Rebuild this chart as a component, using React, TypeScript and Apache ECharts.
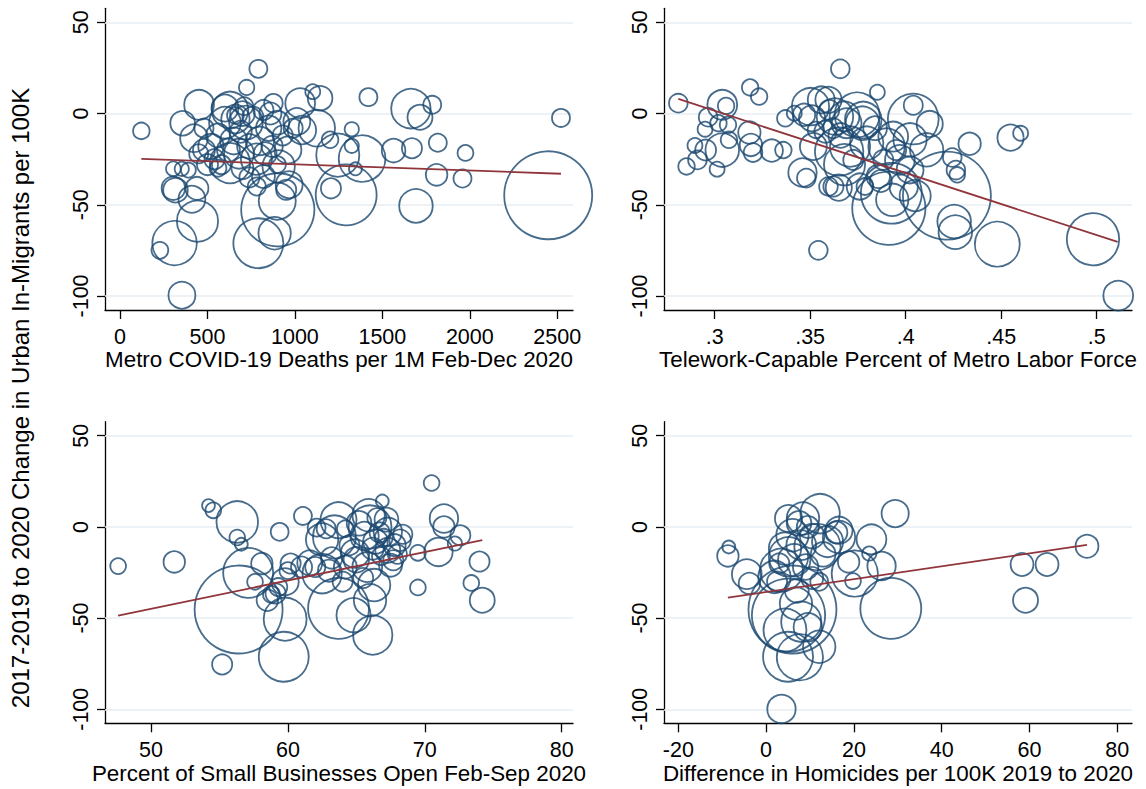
import { useEffect, useRef } from "react";
import * as echarts from "echarts";

const FONT = "'Liberation Sans', Arial, Helvetica, sans-serif";
const NAVY = "#1a476f";
const MAROON = "#90353b";
const GRID_COLOR = "#e6eef3";

const yTitle = "2017-2019 to 2020 Change in Urban In-Migrants per 100K";
const yTicks = [-100, -50, 0, 50];
const yMin = -107.7;
const yMax = 57.7;

// Largest metro (population in millions) and its bubble radius in px
const POP_MAX = 19.2;
const R_MAX = 44;

// [x, change in in-migrants per 100K, metro population (millions)]
const covidDeaths = [
  [122, -9.5, 0.68], [791, 24.5, 0.8], [724, 14.3, 0.58], [452, 4.8, 2.2],
  [358, -5.3, 1.5], [423, -13.5, 1.9], [1420, 9.0, 0.8], [1663, 2.7, 3.85],
  [1715, -2.0, 1.55], [1785, 4.8, 0.8], [2521, -2.4, 0.8], [1817, -16.0, 0.8],
  [1975, -21.6, 0.62], [1669, -19.0, 1.0], [1564, -20.3, 1.38], [1810, -33.6, 1.15],
  [1958, -35.6, 0.8], [1692, -50.6, 2.8], [2448, -44.8, 19.2], [1293, -44.6, 9.2],
  [1245, -22.8, 4.6], [1384, -24.7, 5.4], [1325, -8.6, 0.5], [1325, -17.7, 0.5],
  [1346, -30.3, 0.42], [1206, -41.0, 1.0], [1201, -14.4, 0.68], [1030, 5.7, 2.2],
  [1102, 12.0, 0.55], [1144, 8.4, 1.5], [1125, -8.0, 3.3], [1011, -4.4, 1.8],
  [1040, -9.0, 2.0], [902, -52.8, 13.3], [884, -65.6, 2.6], [791, -71.1, 6.2],
  [899, -48.0, 3.4], [967, -39.0, 1.8], [907, -29.0, 2.6], [312, -71.0, 4.9],
  [228, -75.0, 0.7], [354, -99.6, 1.8], [443, -59.0, 4.2], [411, -47.0, 1.8],
  [440, -41.0, 1.3], [305, -40.9, 1.36], [317, -42.0, 1.5], [305, -30.3, 0.53],
  [353, -30.3, 0.5], [391, -31.0, 0.55], [629, 2.0, 3.3], [877, 5.7, 0.85],
  [600, -5.0, 2.5], [660, -3.0, 2.0], [700, 0.0, 1.5], [720, -5.0, 2.8],
  [690, -10.0, 1.2], [650, -15.0, 1.8], [560, -12.0, 1.4], [520, -18.0, 1.6],
  [480, -20.0, 1.2], [540, -25.0, 1.0], [620, -20.0, 1.3], [680, -22.0, 2.2],
  [740, -18.0, 1.5], [800, -15.0, 2.0], [850, -8.0, 1.6], [830, -22.0, 1.3],
  [780, -25.0, 2.4], [870, -18.0, 1.1], [900, -5.0, 1.4], [930, -12.0, 1.0],
  [960, -20.0, 1.8], [990, -8.0, 0.9], [760, -2.0, 1.1], [820, 2.0, 1.0],
  [580, -28.0, 0.9], [629, -27.2, 4.0], [820, -34.5, 1.3], [782, -40.0, 0.8],
  [950, -41.8, 1.0], [480, -8.0, 0.9], [700, -30.0, 1.2], [740, -35.0, 1.0],
  [600, 3.0, 1.8], [660, -1.0, 0.7], [710, 4.0, 0.8], [860, 0.0, 1.2],
  [900, -28.0, 0.7], [500, -28.0, 1.1], [450, -22.0, 0.9], [560, -30.0, 0.7],
];

const telework = [
  [0.281, 5.7, 0.86], [0.304, 4.8, 2.2], [0.306, 4.2, 0.67], [0.3186, 14.3, 0.67],
  [0.3233, 9.3, 0.67], [0.2966, -2.0, 0.86], [0.295, -8.6, 0.55], [0.302, -5.3, 0.67],
  [0.307, -6.2, 0.67], [0.3075, -14.4, 0.67], [0.304, -20.0, 2.8], [0.2953, -20.0, 1.08],
  [0.2897, -17.5, 0.55], [0.291, -25.4, 0.86], [0.2853, -29.0, 0.67], [0.3013, -30.5, 0.55],
  [0.3182, -10.4, 1.24], [0.319, -17.2, 1.24], [0.3201, -21.4, 0.86], [0.3299, -20.3, 1.24],
  [0.336, -20.0, 0.67], [0.337, -2.6, 0.67], [0.3417, 0.2, 0.55], [0.3468, -0.7, 1.24],
  [0.3502, 3.8, 3.45], [0.351, -2.6, 1.7], [0.353, -9.0, 0.67], [0.346, -32.3, 2.0],
  [0.348, -35.4, 0.86], [0.3596, -40.0, 0.86], [0.365, -40.6, 1.7], [0.3543, -75.0, 0.86],
  [0.3658, 24.5, 0.86], [0.3852, 11.7, 0.55], [0.3596, 7.5, 1.7], [0.368, -1.6, 2.2],
  [0.3746, -0.7, 5.0], [0.3774, -5.3, 2.8], [0.3652, -20.8, 5.8], [0.368, -28.0, 4.2],
  [0.376, -40.0, 1.7], [0.3912, -51.9, 13.3], [0.3925, -43.7, 9.2], [0.393, -47.3, 2.6],
  [0.404, -3.0, 6.4], [0.404, 4.5, 0.9], [0.4126, -5.7, 1.7], [0.4216, -45.0, 19.2],
  [0.4254, -59.2, 2.8], [0.426, -65.0, 2.8], [0.4244, -24.1, 0.86], [0.4263, -31.0, 0.86],
  [0.427, -33.6, 0.6], [0.4335, -16.6, 1.24], [0.4549, -13.2, 1.7], [0.4602, -10.8, 0.55],
  [0.448, -71.6, 5.0], [0.4981, -68.9, 6.8], [0.5113, -99.8, 2.2], [0.3558, 7.5, 1.8],
  [0.363, -1.6, 3.3], [0.3691, -5.3, 2.2], [0.3778, -3.5, 3.3], [0.3796, -16.2, 2.75],
  [0.3709, -18.1, 4.0], [0.39, -18.1, 3.3], [0.3935, -12.6, 2.2], [0.397, -25.4, 2.2],
  [0.4023, -14.4, 2.75], [0.411, -19.9, 2.75], [0.3857, -34.5, 1.35], [0.3787, -40.0, 0.7],
  [0.3622, -40.0, 1.0], [0.4023, -30.9, 1.8], [0.3883, -25.4, 1.0], [0.3726, -25.4, 1.0],
  [0.3517, -18.1, 1.8], [0.358, -10.0, 1.2], [0.362, -8.0, 1.0], [0.384, -8.0, 1.4],
  [0.395, -20.0, 1.0], [0.399, -40.0, 2.0], [0.405, -45.0, 2.4], [0.387, -37.0, 1.2],
  [0.36, 2.0, 1.0], [0.366, -12.0, 1.5],
];

const smallBusinessOpen = [
  [47.6, -21.5, 0.61], [51.7, -19.2, 1.14], [54.2, 11.7, 0.41], [54.55, 9.1, 0.61],
  [56.3, 2.7, 4.27], [56.3, -5.8, 0.6], [56.6, -9.5, 0.41], [57.1, -25.2, 6.2],
  [56.4, -45.3, 19.2], [55.2, -75.4, 1.0], [59.7, -71.2, 6.2], [59.8, -50.6, 4.57],
  [59.4, -2.7, 0.79], [58.1, -20.1, 1.14], [57.6, -30.1, 0.61], [58.5, -40.2, 1.14],
  [59.1, -36.5, 1.0], [59.8, -30.1, 1.83], [60.2, -20.1, 1.0], [61.1, 6.0, 0.79],
  [62.1, -0.4, 0.79], [62.5, -6.9, 2.6], [61.6, -19.7, 1.55], [62.5, -25.6, 3.84],
  [63.7, -44.7, 9.2], [63.7, 3.7, 3.2], [63.4, -5.5, 4.57], [63.2, -17.0, 1.14],
  [64.8, -48.4, 2.9], [64.9, -14.6, 2.0], [65.9, 6.4, 2.6], [66.0, 0.0, 4.57],
  [66.0, -40.2, 2.6], [66.2, -59.3, 3.84], [66.3, -31.9, 2.6], [66.9, 14.2, 0.41],
  [67.3, -2.7, 2.0], [67.3, -12.8, 1.55], [67.7, -18.3, 1.0], [68.2, -7.3, 1.14],
  [69.5, -14.2, 0.61], [69.5, -33.2, 0.61], [70.5, 24.1, 0.61], [71.4, 4.6, 2.0],
  [71.4, 0.0, 1.14], [71.0, -13.7, 2.0], [72.2, -9.1, 0.5], [72.6, -4.6, 1.0],
  [73.4, -30.7, 0.61], [74.0, -19.0, 1.0], [74.2, -40.2, 1.55], [65.2, 2.0, 1.5],
  [65.6, -5.0, 2.0], [66.4, -8.0, 1.5], [66.7, -3.0, 1.0], [67.0, -6.0, 0.8],
  [66.2, -12.0, 1.2], [65.0, -18.0, 1.6], [65.8, -22.0, 2.2], [67.8, -10.0, 1.2],
  [68.0, -15.0, 0.9], [67.5, -21.0, 1.3], [66.8, -16.0, 0.8], [64.5, -10.0, 1.0],
  [64.2, -22.0, 1.3], [65.5, -28.0, 1.0], [68.4, -4.0, 0.9], [67.2, 4.0, 1.4],
  [66.5, 5.0, 0.9], [62.0, -22.0, 1.0], [61.0, -22.0, 1.1], [60.0, -24.0, 0.7],
  [58.8, -37.0, 0.7], [59.3, -33.0, 0.8], [63.0, -24.0, 1.2], [64.0, -30.0, 1.0],
  [62.8, -1.0, 0.9], [64.2, -1.0, 0.7],
];

const homicideChange = [
  [-8.5, -11.0, 0.41], [-8.7, -15.9, 1.14], [-4.4, -25.9, 2.2], [-3.8, -31.0, 1.14],
  [29.4, 7.3, 1.83], [28.4, -44.7, 9.2], [24.0, -6.8, 2.2], [23.5, -14.6, 0.5],
  [26.3, -21.4, 2.0], [20.2, -25.6, 5.3], [19.8, -29.7, 0.61], [18.8, -19.2, 1.14],
  [16.6, -1.8, 1.83], [16.6, -5.5, 2.6], [12.3, 7.3, 3.84], [8.4, 4.6, 2.6],
  [5.1, 4.6, 1.83], [6.0, -4.6, 2.6], [11.7, -11.0, 5.3], [4.3, -11.9, 2.6],
  [5.1, -16.4, 3.84], [6.4, -18.3, 2.6], [3.5, -23.7, 4.57], [1.9, -27.4, 2.6],
  [12.1, -30.1, 0.79], [6.8, -42.0, 2.6], [6.0, -45.3, 19.2], [5.1, -48.4, 13.3],
  [4.3, -56.6, 4.57], [12.1, -65.7, 2.6], [7.7, -71.5, 5.3], [5.0, -71.2, 6.2],
  [3.5, -99.8, 2.0], [58.3, -20.6, 1.3], [64.0, -20.6, 1.3], [59.1, -40.2, 1.55],
  [73.1, -10.6, 1.3], [7.5, 2.0, 1.5], [9.5, 0.0, 1.2], [10.5, -5.0, 1.5],
  [8.0, -10.0, 2.2], [14.0, -8.0, 2.4], [13.0, -15.0, 1.5], [9.0, -22.0, 1.6],
  [10.5, -28.0, 1.2], [2.5, -30.0, 1.0], [7.0, -35.0, 1.4], [8.0, -52.0, 4.0],
  [9.5, -55.0, 2.0], [16.0, -3.0, 1.2], [3.0, -20.0, 1.0],
];

// Fitted lines (endpoints at each panel's x range)
const covidFit = [[122, -24.8], [2521, -33.0]];
const teleworkFit = [[0.281, 8.0], [0.511, -70.4]];
const businessFit = [[47.6, -48.7], [74.2, -7.2]];
const homicideFit = [[-8.7, -38.8], [73.1, -9.9]];

// Axis titles and ticks
const xTitles = [
  "Metro COVID-19 Deaths per 1M Feb-Dec 2020",
  "Telework-Capable Percent of Metro Labor Force",
  "Percent of Small Businesses Open Feb-Sep 2020",
  "Difference in Homicides per 100K 2019 to 2020",
];
const covidTicks = [0, 500, 1000, 1500, 2000, 2500];
const teleworkTicks = [0.3, 0.35, 0.4, 0.45, 0.5];
const businessTicks = [50, 60, 70, 80];
const homicideTicks = [-20, 0, 20, 40, 60, 80];

const panels = [
  { data: covidDeaths, fit: covidFit, ticks: covidTicks, min: -85.8, max: 2589.8, title: xTitles[0] },
  { data: telework, fit: teleworkFit, ticks: teleworkTicks, min: 0.2735, max: 0.5185, title: xTitles[1] },
  { data: smallBusinessOpen, fit: businessFit, ticks: businessTicks, min: 46.64, max: 80.83, title: xTitles[2] },
  { data: homicideChange, fit: homicideFit, ticks: homicideTicks, min: -23.26, max: 83.35, title: xTitles[3] },
];

const grids = [
  { left: 105, top: 8.3, width: 468, height: 301.7 },
  { left: 664, top: 8.3, width: 468, height: 301.7 },
  { left: 105, top: 421.7, width: 468, height: 301.6 },
  { left: 664, top: 421.7, width: 468, height: 301.6 },
];

const fmtTick = (v: number) => {
  const s = String(Math.round(v * 1000) / 1000);
  return s.replace(/^0\./, ".").replace(/^-0\./, "-.");
};

export default function App() {
  const ref = useRef<HTMLDivElement>(null);

  useEffect(() => {
    if (!ref.current) return;
    const chart = echarts.init(ref.current, null, { renderer: "svg" });

    const axisLineStyle = { color: "#000", width: 1.3 };
    const labelStyle = { fontSize: 21.5, color: "#000", fontFamily: FONT };

    const xAxis = panels.map((p, i) => ({
      gridIndex: i,
      type: "value",
      min: p.min,
      max: p.max,
      axisLine: { show: true, onZero: false, lineStyle: axisLineStyle },
      axisTick: { show: true, length: 9, lineStyle: axisLineStyle, customValues: p.ticks },
      axisLabel: { ...labelStyle, customValues: p.ticks, formatter: fmtTick, margin: 16 },
      splitLine: { show: false },
      name: p.title,
      nameLocation: "middle",
      nameGap: 37,
      nameTextStyle: { fontSize: 22.4, color: "#000", fontFamily: FONT },
    }));

    const yAxis = panels.map((_, i) => ({
      gridIndex: i,
      type: "value",
      min: yMin,
      max: yMax,
      axisLine: { show: true, onZero: false, lineStyle: axisLineStyle },
      axisTick: { show: true, length: 8, lineStyle: axisLineStyle, customValues: yTicks },
      axisLabel: { ...labelStyle, customValues: yTicks, rotate: 90, margin: 13, formatter: fmtTick },
      splitLine: { show: false },
    }));

    const series: any[] = [];
    panels.forEach((p, i) => {
      series.push({
        type: "scatter",
        xAxisIndex: i,
        yAxisIndex: i,
        data: p.data,
        clip: false,
        z: 2,
        symbol: "circle",
        symbolSize: (v: number[]) => 2 * R_MAX * Math.sqrt(v[2] / POP_MAX),
        itemStyle: { color: "transparent", borderColor: NAVY, borderWidth: 1.8 },
        emphasis: { disabled: true },
      });
      series.push({
        type: "line",
        xAxisIndex: i,
        yAxisIndex: i,
        data: p.fit,
        symbol: "none",
        z: 3,
        lineStyle: { color: MAROON, width: 1.8 },
        emphasis: { disabled: true },
        markLine: {
          silent: true,
          z: 1,
          symbol: ["none", "none"],
          label: { show: false },
          lineStyle: { color: GRID_COLOR, width: 1.6, type: "solid" },
          data: yTicks.map((v) => ({ yAxis: v })),
        },
      });
    });

    chart.setOption({
      animation: false,
      backgroundColor: "#fff",
      grid: grids,
      xAxis,
      yAxis,
      series,
      graphic: [
        {
          type: "text",
          x: 20,
          y: 398,
          rotation: Math.PI / 2,
          style: {
            text: yTitle,
            fontSize: 24,
            fontFamily: FONT,
            fill: "#000",
            align: "center",
            verticalAlign: "middle",
          },
        },
      ],
    });

    return () => chart.dispose();
  }, []);

  return (
    <div
      ref={ref}
      style={{ position: "fixed", left: 0, top: 0, width: 1146, height: 789, background: "#fff" }}
    />
  );
}
